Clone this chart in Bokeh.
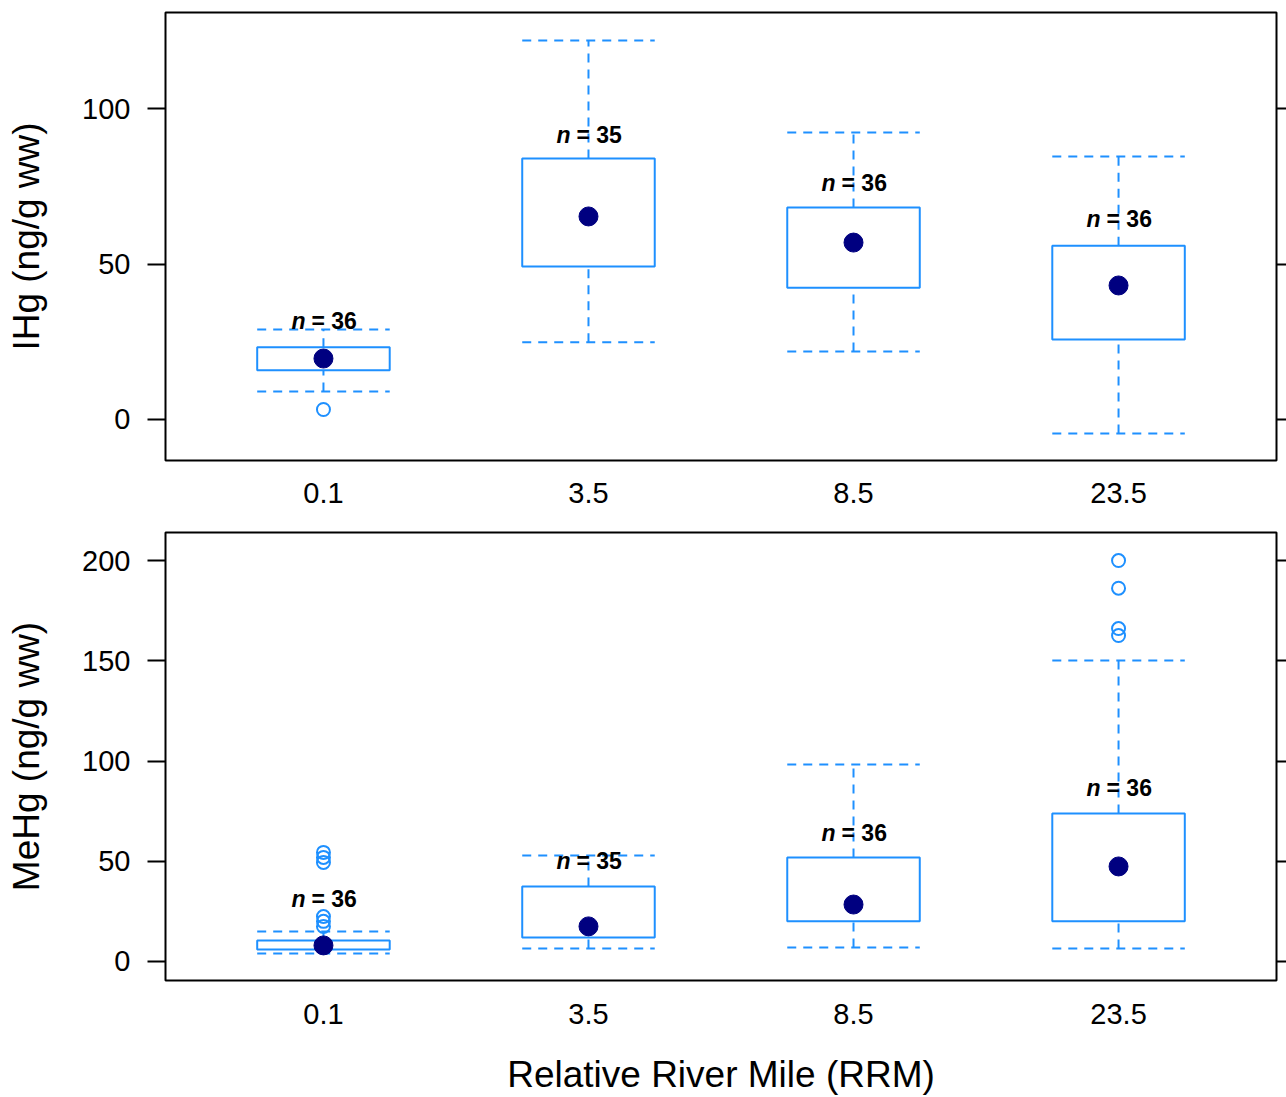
from bokeh.plotting import figure
from bokeh.layouts import column
from bokeh.models import Range1d, LinearAxis, FixedTicker, ColumnDataSource
from bokeh.embed import file_html
from bokeh.resources import INLINE
from bokeh.core.properties import value

# ---------------- data ----------------
categories = ["0.1", "3.5", "8.5", "23.5"]
n_counts = [36, 35, 36, 36]

ihg_whisk_lo = [9.0, 24.8, 21.9, -4.5]
ihg_q1 = [15.8, 49.2, 42.4, 25.7]
ihg_q3 = [23.2, 83.9, 68.2, 55.9]
ihg_whisk_hi = [28.9, 121.9, 92.3, 84.6]
ihg_mean = [19.6, 65.3, 56.9, 43.1]
ihg_out_cat = ["0.1"]
ihg_out_val = [3.2]
ihg_label_y = [31.8, 91.6, 76.2, 64.6]
ihg_ticks = [0, 50, 100]

mehg_whisk_lo = [4.0, 6.5, 7.0, 6.5]
mehg_q1 = [6.0, 12.0, 20.0, 20.0]
mehg_q3 = [10.5, 37.4, 51.9, 73.8]
mehg_whisk_hi = [15.0, 52.9, 98.3, 150.1]
mehg_mean = [8.0, 17.5, 28.4, 47.4]
mehg_out_cat = ["0.1", "0.1", "0.1", "0.1", "0.1", "0.1",
                "23.5", "23.5", "23.5", "23.5"]
mehg_out_val = [54.4, 51.9, 49.4, 22.4, 20.0, 17.5,
                200.0, 186.2, 166.1, 162.6]
mehg_label_y = [31.4, 49.9, 64.3, 86.3]
mehg_ticks = [0, 50, 100, 150, 200]

BLUE = "#1E90FF"
NAVY = "#000080"
FONT = "Liberation Sans"
BOX_W = 0.5
DASH = "9 7"


def make_panel(wlo, q1, q3, whi, mean, out_cat, out_val, label_y, ticks,
               y_lo, y_hi, ytitle, height, b_top, b_bottom, xstandoff,
               xtitle=None):
    xs = [categories.index(c) + 1 for c in categories]
    p = figure(width=1286, height=height, output_backend="svg",
               toolbar_location=None, x_range=Range1d(0.404, 4.596),
               y_range=Range1d(y_lo, y_hi),
               min_border_left=165, min_border_right=0,
               min_border_top=b_top, min_border_bottom=b_bottom)
    p.grid.visible = False
    p.outline_line_color = "black"
    p.outline_line_width = 2
    p.background_fill_color = "white"
    p.border_fill_color = "white"

    src = ColumnDataSource(dict(
        x=xs, left=[x - BOX_W / 2 for x in xs], right=[x + BOX_W / 2 for x in xs],
        wlo=wlo, q1=q1, q3=q3, whi=whi, mean=mean, ly=label_y,
        ntxt=["= %d" % n for n in n_counts]))

    # whiskers (dashed) and caps
    p.segment(x0="x", y0="q3", x1="x", y1="whi", source=src,
              line_color=BLUE, line_width=2, line_dash=DASH)
    p.segment(x0="x", y0="wlo", x1="x", y1="q1", source=src,
              line_color=BLUE, line_width=2, line_dash=DASH)
    p.segment(x0="left", y0="whi", x1="right", y1="whi", source=src,
              line_color=BLUE, line_width=2, line_dash=DASH)
    p.segment(x0="left", y0="wlo", x1="right", y1="wlo", source=src,
              line_color=BLUE, line_width=2, line_dash=DASH)
    # boxes
    p.quad(left="left", right="right", bottom="q1", top="q3", source=src,
           fill_color="white", line_color=BLUE, line_width=2)
    # outliers
    ox = [categories.index(c) + 1 for c in out_cat]
    p.scatter(ox, out_val, marker="circle", size=13, fill_color=None,
              line_color=BLUE, line_width=2)
    # means
    p.scatter(x="x", y="mean", source=src, marker="circle", size=19,
              fill_color=NAVY, line_color=NAVY)
    # n labels
    p.text(x="x", y="ly", text=value("n"), source=src, x_offset=-18,
           text_align="right", text_baseline="middle",
           text_font=value(FONT), text_font_style="bold italic",
           text_font_size="23px", text_color="black")
    p.text(x="x", y="ly", text="ntxt", source=src, x_offset=-12,
           text_align="left", text_baseline="middle",
           text_font=value(FONT), text_font_style="bold",
           text_font_size="23px", text_color="black")

    # axes
    xa = p.xaxis[0]
    xa.ticker = FixedTicker(ticks=xs)
    xa.major_label_overrides = {x: c for x, c in zip(xs, categories)}
    xa.major_tick_out = 0
    xa.major_tick_in = 0
    xa.minor_tick_line_color = None
    xa.axis_line_color = None
    xa.major_label_standoff = xstandoff
    xa.major_label_text_font = FONT
    xa.major_label_text_font_size = "29px"
    xa.major_label_text_color = "black"
    if xtitle:
        xa.axis_label = xtitle
        xa.axis_label_text_font = FONT
        xa.axis_label_text_font_size = "37px"
        xa.axis_label_text_font_style = "normal"
        xa.axis_label_text_color = "black"
        xa.axis_label_text_line_height = 1.0
        xa.axis_label_standoff = 27

    ya = p.yaxis[0]
    ya.ticker = FixedTicker(ticks=ticks)
    ya.major_tick_out = 18
    ya.major_tick_in = 0
    ya.major_tick_line_width = 2
    ya.major_tick_line_color = "black"
    ya.minor_tick_line_color = None
    ya.axis_line_color = None
    ya.major_label_standoff = 17
    ya.major_label_text_font = FONT
    ya.major_label_text_font_size = "29px"
    ya.major_label_text_color = "black"
    ya.axis_label = ytitle
    ya.axis_label_text_font = FONT
    ya.axis_label_text_font_size = "37px"
    ya.axis_label_text_font_style = "normal"
    ya.axis_label_text_color = "black"
    ya.axis_label_standoff = 32

    ra = LinearAxis(ticker=FixedTicker(ticks=ticks))
    ra.major_tick_out = 10
    ra.major_tick_in = 0
    ra.major_tick_line_width = 2
    ra.major_tick_line_color = "black"
    ra.minor_tick_line_color = None
    ra.axis_line_color = None
    ra.major_label_overrides = {t: "" for t in ticks}
    ra.major_label_standoff = 0
    p.add_layout(ra, "right")
    return p


top = make_panel(ihg_whisk_lo, ihg_q1, ihg_q3, ihg_whisk_hi, ihg_mean,
                 ihg_out_cat, ihg_out_val, ihg_label_y, ihg_ticks,
                 -13.2, 130.9, "IHg (ng/g ww)", 520, 12, 60, 22)
bottom = make_panel(mehg_whisk_lo, mehg_q1, mehg_q3, mehg_whisk_hi, mehg_mean,
                    mehg_out_cat, mehg_out_val, mehg_label_y, mehg_ticks,
                    -9.5, 214.0, "MeHg (ng/g ww)", 577, 12, 117, 23,
                    xtitle="Relative River Mile (RRM)")

layout = column(top, bottom, spacing=0)
open("out.html", "w").write(file_html(layout, INLINE))
